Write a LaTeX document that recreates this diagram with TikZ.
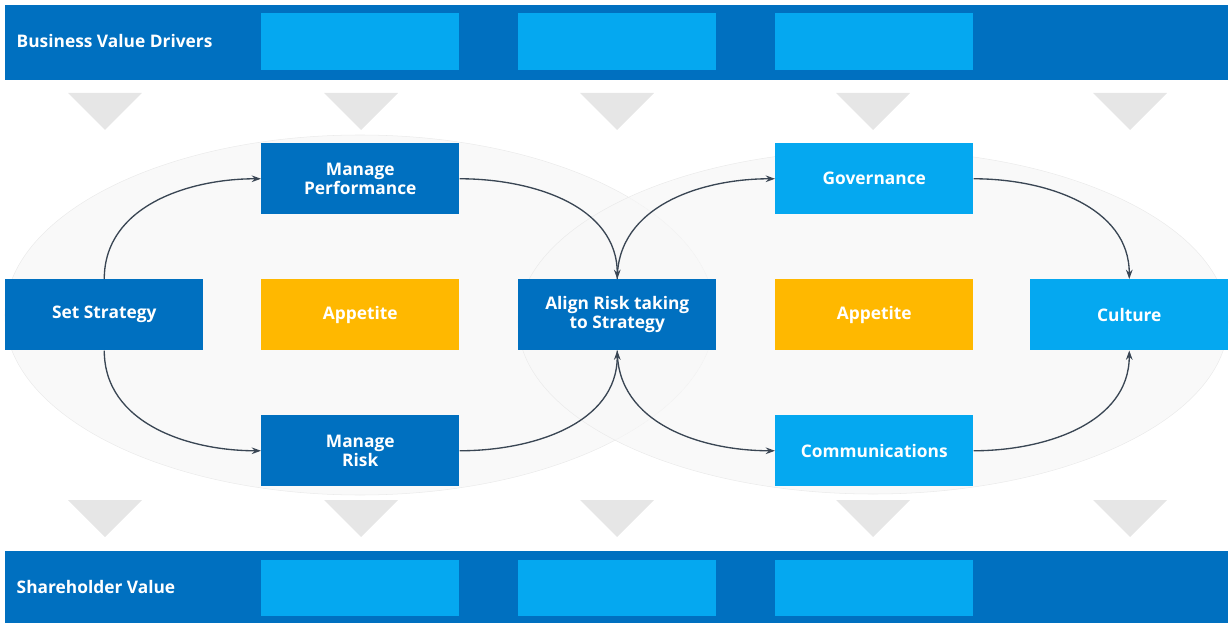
\documentclass[tikz,border=0pt]{standalone}
\usepackage{fontspec}
\setmainfont{Open Sans}
\usetikzlibrary{arrows.meta}
\definecolor{dk}{HTML}{0070C0}
\definecolor{lt}{HTML}{05A8F0}
\definecolor{am}{HTML}{FFB800}
\definecolor{tri}{HTML}{E6E6E6}
\definecolor{arr}{HTML}{3A4654}
\tikzset{
 box/.style={minimum width=198*0.75pt,minimum height=71*0.75pt,inner sep=0pt,text=white,font=\bfseries\fontsize{13}{14}\selectfont,align=center,anchor=north west},
 dbox/.style={box,fill=dk},
 lbox/.style={box,fill=lt},
 abox/.style={box,fill=am},
 con/.style={draw=arr,line width=1pt,-{Stealth[length=7pt,width=5pt]}}
}
\begin{document}
\begin{tikzpicture}[x=0.75pt,y=-0.75pt]
\useasboundingbox (0,0) rectangle (1232,624);
% bars
\fill[dk] (5,5) rectangle (1228,80);
\fill[dk] (5,551) rectangle (1228,623);
\foreach \x in {261,518,775}{
 \fill[lt] (\x,13) rectangle (\x+198,70);
 \fill[lt] (\x,560) rectangle (\x+198,616);
}
\node[anchor=west,text=white,font=\bfseries\fontsize{13}{14}\selectfont] (bvd) at (12,41) {Business Value Drivers};
\node[anchor=west,text=white,font=\bfseries\fontsize{13}{14}\selectfont] (shv) at (12,587) {Shareholder Value};
% triangles
\foreach \x in {105,361,617,873,1130}{
 \fill[tri] (\x-37,93) -- (\x+37,93) -- (\x,130) -- cycle;
 \fill[tri] (\x-37,500) -- (\x+37,500) -- (\x,537) -- cycle;
}
% ellipses
\draw[fill=black!3,draw=black!8,fill opacity=0.7] (360,315) ellipse [x radius=355,y radius=180];
\draw[fill=black!3,draw=black!8,fill opacity=0.7] (873,322) ellipse [x radius=355,y radius=172];
% nodes
\node[dbox] (ss) at (5,279) {Set Strategy};
\node[dbox] (mp) at (261,143) {Manage\\Performance};
\node[abox] (ap1) at (261,279) {Appetite};
\node[dbox] (al) at (518,279) {Align Risk taking\\to Strategy};
\node[dbox] (mr) at (261,415) {Manage\\Risk};
\node[lbox] (gv) at (775,143) {Governance};
\node[abox] (ap2) at (775,279) {Appetite};
\node[lbox] (cu) at (1030,279) {Culture};
\node[lbox] (cm) at (775,415) {Communications};
% connectors
\draw[con] (ss.north) to[out=90,in=180] (mp.west);
\draw[con] (mp.east) to[out=0,in=90] (al.north);
\draw[con] (al.north) to[out=90,in=180] (gv.west);
\draw[con] (gv.east) to[out=0,in=90] (cu.north);
\draw[con] (ss.south) to[out=-90,in=180] (mr.west);
\draw[con] (mr.east) to[out=0,in=-90] (al.south);
\draw[con] (al.south) to[out=-90,in=180] (cm.west);
\draw[con] (cm.east) to[out=0,in=-90] (cu.south);
\end{tikzpicture}
\end{document}
